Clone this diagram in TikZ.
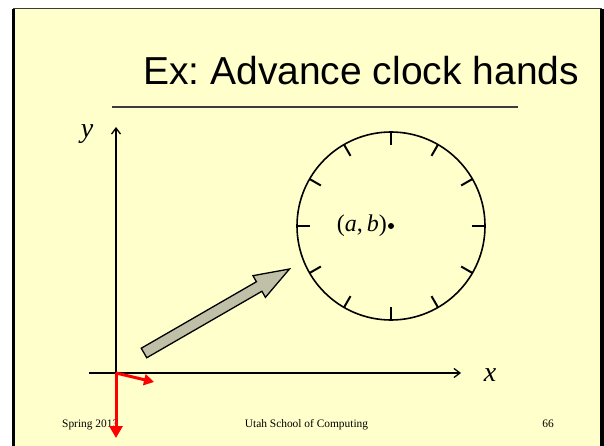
\documentclass[tikz,border=0pt]{standalone}
\usepackage{fontspec}
\setmainfont{Liberation Serif}
\newfontfamily\arialfont{Liberation Sans}
\usetikzlibrary{arrows.meta,calc}
\frenchspacing
\definecolor{slidebg}{RGB}{255,255,204}
\definecolor{arrowfill}{RGB}{192,192,168}
\definecolor{rulegray}{RGB}{60,60,60}
\tikzset{
  axis/.style={black, line width=1.3pt, -{Straight Barb[length=6pt,width=9pt,line width=1.3pt]}},
  redarrow/.style={red, line width=3pt, -{Triangle[length=12pt,width=13pt]}},
  redarrowsmall/.style={red, line width=3pt, -{Triangle[length=10pt,width=11pt]}},
  clockface/.style={black, line width=1.6pt},
  clocktick/.style={black, line width=2pt},
  footer/.style={font=\fontsize{11.4}{12}\selectfont, inner sep=0pt},
  axlabel/.style={font=\fontsize{28}{28}\selectfont\itshape, inner sep=0pt},
}
\begin{document}
\begin{tikzpicture}[x=1pt,y=-1pt]
\useasboundingbox (0,0) rectangle (604,446);
% slide background and frame
\fill[white] (0,0) rectangle (604,446);
\fill[slidebg] (13,9) rectangle (602,446);
\draw[rulegray, line width=1pt] (13,9) -- (602,9);
\draw[black, line width=3pt] (13.5,9) -- (13.5,446);
\draw[black, line width=3.5pt] (602,9) -- (602,446);
% title
\node[anchor=base west, inner sep=0pt, font=\arialfont\fontsize{39}{39}\selectfont] (title) at (143,85) {Ex: Advance clock hands};
\coordinate (ulL) at (112,107);
\coordinate (ulR) at (518,107);
\draw[rulegray, line width=1.2pt] (ulL) -- (ulR);
% footer
\node[footer, anchor=base west] (spring) at (62,427) {Spring 2013};
\node[footer, anchor=base] (school) at (306.5,427) {Utah School of Computing};
\node[footer, anchor=base] (page) at (548,427) {66};
% axes
\coordinate (O) at (116,373);
\coordinate (ytop) at (116,127);
\coordinate (xleft) at (89,373);
\coordinate (xright) at (461,373);
\draw[axis] (O) -- (ytop);
\draw[axis] (xleft) -- (xright);
\node[axlabel] (ylab) at (87,134) {y};
\node[axlabel] (xlab) at (490,375) {x};
% gray arrow
\begin{scope}[shift={(144,353)}, rotate=30]
\draw[fill=arrowfill, line width=1.3pt, line join=miter]
  (0,-5.5) -- (133,-5.5) -- (133,-12.5) -- (168,0) -- (133,12.5) -- (133,5.5) -- (0,5.5) -- cycle;
\end{scope}
% clock
\coordinate (C) at (391,226);
\draw[clockface] (C) circle[radius=94pt];
\foreach \a in {0,30,...,330}
  \draw[clocktick] ($(C)+(\a:94pt)$) -- ($(C)+(\a:81pt)$);
\fill[black] (C) circle[radius=3pt];
\node[inner sep=0pt, anchor=east, font=\fontsize{24}{24}\selectfont] (ab) at (387,226) {(\textit{a},\thinspace\textit{b})};
% red frame arrows
\coordinate (rdown) at (116,438);
\coordinate (rright) at (154,382);
\draw[redarrow] (O) -- (rdown);
\draw[redarrowsmall] (O) -- (rright);
\end{tikzpicture}
\end{document}
